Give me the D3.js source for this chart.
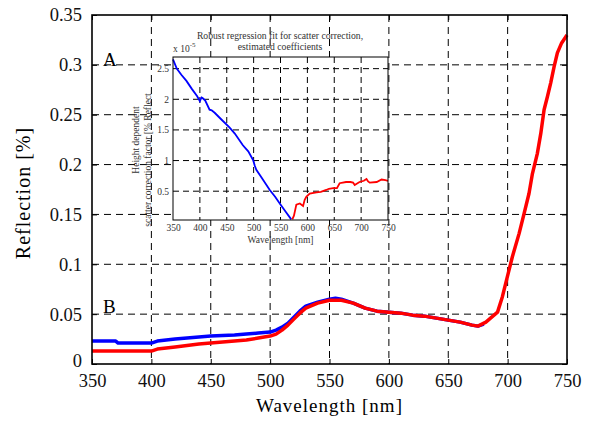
<!DOCTYPE html>
<html><head><meta charset="utf-8">
<script src="https://cdn.jsdelivr.net/npm/d3@7"></script>
<style>body{margin:0;background:#fff}svg{display:block}</style>
</head><body><svg id="c" width="590" height="421"></svg>
<script>
// ---- Main chart data ----
const xTicks = [350,400,450,500,550,600,650,700,750];
const yTicks = [0,0.05,0.1,0.15,0.2,0.25,0.3,0.35];
const yTickLabels = ["0","0.05","0.1","0.15","0.2","0.25","0.3","0.35"];
const blueWl  = [350,370,372,400,405,420,440,450,470,480,490,500,505,510,515,520,525,530,540,550,555,560,570,580,590,600,610,620,630,640,650,660,670,675,680];
const blueVal = [0.023,0.023,0.021,0.021,0.023,0.025,0.027,0.028,0.029,0.030,0.031,0.032,0.034,0.037,0.041,0.047,0.053,0.058,0.062,0.065,0.066,0.065,0.061,0.056,0.053,0.052,0.051,0.049,0.048,0.046,0.044,0.042,0.039,0.038,0.040];
const redWl  = [350,400,405,420,440,460,480,490,500,505,510,515,520,525,530,540,550,560,570,580,590,600,610,620,630,640,650,660,670,675,681.7,691.5,695.6,699.8,704,709.7,713.9,718,720.9,725,727.9,730.7,733.5,736.3,739.1,741.9,745.5,750];
const redVal = [0.013,0.013,0.015,0.017,0.020,0.022,0.024,0.026,0.028,0.030,0.034,0.039,0.045,0.051,0.056,0.061,0.064,0.064,0.061,0.056,0.053,0.052,0.051,0.049,0.048,0.046,0.044,0.042,0.039,0.038,0.042,0.052,0.0675,0.0876,0.1076,0.131,0.151,0.171,0.191,0.211,0.231,0.255,0.268,0.282,0.298,0.312,0.322,0.330];

// ---- Inset data ----
const inXTicks = [350,400,450,500,550,600,650,700,750];
const inYTicks = [0.5,1,1.5,2,2.5];
const inBlueWl  = [350,357,365.5,375,385,395,400,403,405,410,418,422,427.5,440,455,465,480,490,499,502,505,515,530,540,548.6,560,570];
const inBlueVal = [2.65,2.5,2.40,2.30,2.17,2.05,1.97,2.03,2.02,1.98,1.83,1.82,1.78,1.67,1.54,1.44,1.25,1.15,1.01,0.92,0.85,0.72,0.52,0.41,0.30,0.16,0.04];
const inRedWl  = [572,575,579.5,586,592,595,598,604.3,617,625,635,640,648,655,660,672,680,685,688,697,705,710,713,716,729,738,745,750];
const inRedVal = [0.04,0.10,0.28,0.30,0.26,0.36,0.41,0.46,0.48,0.49,0.52,0.54,0.55,0.55,0.63,0.65,0.65,0.64,0.60,0.65,0.67,0.70,0.66,0.64,0.65,0.69,0.68,0.67];

const svg = d3.select("#c");
const serif = "'Liberation Serif','Times New Roman',serif";

// ---- Main axes ----
const L=92, R=567, T=15, B=364;
const x = d3.scaleLinear().domain([350,750]).range([L,R]);
const y = d3.scaleLinear().domain([0,0.35]).range([B,T]);

const g = svg.append("g");
g.selectAll(".vg").data(xTicks.slice(1,-1)).join("line")
  .attr("x1",d=>x(d)).attr("x2",d=>x(d)).attr("y1",T).attr("y2",B)
  .attr("stroke","#000").attr("stroke-width",1).attr("stroke-dasharray","7,5");
g.selectAll(".hg").data(yTicks.slice(1,-1)).join("line")
  .attr("y1",d=>y(d)).attr("y2",d=>y(d)).attr("x1",L).attr("x2",R)
  .attr("stroke","#000").attr("stroke-width",1).attr("stroke-dasharray","7,5");

const xAxB = d3.axisBottom(x).tickValues(xTicks).tickSize(-5).tickPadding(10).tickFormat(d3.format("d"));
const xAxT = d3.axisTop(x).tickValues(xTicks).tickSize(-5).tickFormat("");
const yAxL = d3.axisLeft(y).tickValues(yTicks).tickSize(-5).tickPadding(10).tickFormat((d,i)=>yTickLabels[i]);
const yAxR = d3.axisRight(y).tickValues(yTicks).tickSize(-5).tickFormat("");
function styleAx(s){ s.select(".domain").remove(); s.selectAll("line").attr("stroke","#000");
  s.selectAll("text").attr("font-family",serif).attr("font-size",18.5).attr("fill","#111"); }
g.append("g").attr("transform",`translate(0,${B})`).call(xAxB).call(styleAx);
g.append("g").attr("transform",`translate(0,${T})`).call(xAxT).call(styleAx);
const yl0 = g.append("g").attr("transform",`translate(${L},0)`).call(yAxL).call(styleAx);
yl0.selectAll(".tick text").filter(d=>d===0).attr("y",-3);
g.append("g").attr("transform",`translate(${R},0)`).call(yAxR).call(styleAx);

const line = d3.line().x(d=>x(d[0])).y(d=>y(d[1]));
g.append("path").datum(d3.zip(blueWl,blueVal)).attr("d",line)
  .attr("fill","none").attr("stroke","#0000ff").attr("stroke-width",3.5).attr("stroke-linejoin","round");
g.append("path").datum(d3.zip(redWl,redVal)).attr("d",line)
  .attr("fill","none").attr("stroke","#ff0000").attr("stroke-width",3.5).attr("stroke-linejoin","round");

g.append("rect").attr("x",L).attr("y",T).attr("width",R-L).attr("height",B-T)
  .attr("fill","none").attr("stroke","#000").attr("stroke-width",1.6);

svg.append("text").attr("x",(L+R)/2).attr("y",412).attr("text-anchor","middle")
  .attr("font-family",serif).attr("font-size",19).attr("letter-spacing","1px").text("Wavelength [nm]");
svg.append("text").attr("transform",`translate(30,${193}) rotate(-90)`).attr("text-anchor","middle")
  .attr("font-family",serif).attr("font-size",20).attr("letter-spacing","1px").text("Reflection [%]");
svg.append("text").attr("x",103).attr("y",66).attr("font-family",serif).attr("font-size",19).text("A");
svg.append("text").attr("x",103).attr("y",313).attr("font-family",serif).attr("font-size",19).text("B");

// ---- Inset ----
const iL=173, iR=388, iT=57, iB=220;
const ix = d3.scaleLinear().domain([350,750]).range([iL,iR]);
const iy = d3.scaleLinear().domain([0.03,2.69]).range([iB,iT]);
const ig = svg.append("g");
ig.append("rect").attr("x",iL).attr("y",iT).attr("width",iR-iL).attr("height",iB-iT).attr("fill","#fff");
ig.selectAll(".ivg").data(inXTicks.slice(1,-1)).join("line")
  .attr("x1",d=>ix(d)).attr("x2",d=>ix(d)).attr("y1",iT).attr("y2",iB)
  .attr("stroke","#000").attr("stroke-width",1).attr("stroke-dasharray","6,4");
ig.selectAll(".ihg").data(inYTicks).join("line")
  .attr("y1",d=>iy(d)).attr("y2",d=>iy(d)).attr("x1",iL).attr("x2",iR)
  .attr("stroke","#000").attr("stroke-width",1).attr("stroke-dasharray","6,4");
const iline = d3.line().x(d=>ix(d[0])).y(d=>iy(d[1]));
ig.append("path").datum(d3.zip(inBlueWl,inBlueVal)).attr("d",iline)
  .attr("fill","none").attr("stroke","#0000ff").attr("stroke-width",1.8);
ig.append("path").datum(d3.zip(inRedWl,inRedVal)).attr("d",iline)
  .attr("fill","none").attr("stroke","#ff0000").attr("stroke-width",1.8);
ig.append("rect").attr("x",iL).attr("y",iT).attr("width",iR-iL).attr("height",iB-iT)
  .attr("fill","none").attr("stroke","#000").attr("stroke-width",1);
function styleIn(s){ s.select(".domain").remove(); s.selectAll("line").remove();
  s.selectAll("text").attr("font-family",serif).attr("font-size",9.5).attr("fill","#333"); }
ig.append("g").attr("transform",`translate(0,${iB})`)
  .call(d3.axisBottom(ix).tickValues(inXTicks).tickSize(0).tickPadding(4).tickFormat(d3.format("d"))).call(styleIn);
ig.append("g").attr("transform",`translate(${iL},0)`)
  .call(d3.axisLeft(iy).tickValues(inYTicks).tickSize(0).tickPadding(4).tickFormat(d3.format("~g"))).call(styleIn);
const it = ig.append("text").attr("font-family",serif).attr("font-size",9.7).attr("fill","#333").attr("text-anchor","middle");
it.append("tspan").attr("x",280).attr("y",39).text("Robust regression fit for scatter correction,");
it.append("tspan").attr("x",280).attr("y",50).text("estimated coefficients");
const ex = ig.append("text").attr("x",173).attr("y",52).attr("font-family",serif).attr("font-size",9.5).attr("fill","#333");
ex.append("tspan").text("x 10");
ex.append("tspan").attr("dy",-5).attr("font-size",7).text("-5");
ig.append("text").attr("x",(iL+iR)/2).attr("y",243).attr("text-anchor","middle")
  .attr("font-family",serif).attr("font-size",9.5).attr("fill","#333").text("Wavelength [nm]");
const yl = ig.append("text").attr("transform",`rotate(-90)`).attr("font-family",serif)
  .attr("font-size",9.5).attr("fill","#333").attr("text-anchor","middle");
yl.append("tspan").attr("x",-140).attr("y",139).text("Height dependent");
yl.append("tspan").attr("x",-160).attr("y",151).text("scatter correction factor [% Reflect");
</script></body></html>
